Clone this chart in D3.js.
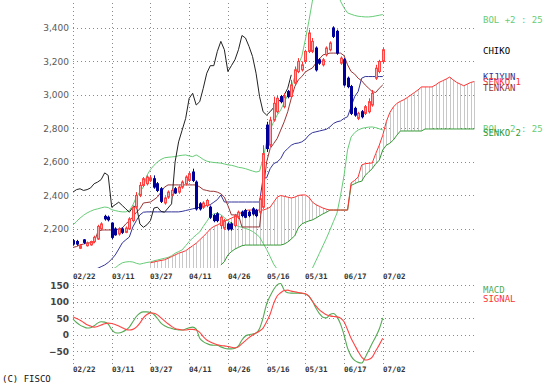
<!DOCTYPE html>
<html>
<head>
  <meta charset="utf-8"><script src="https://d3js.org/d3.v7.min.js"></script>
  <style>body{margin:0;background:#fff}</style>
</head>
<body>
  <svg id="mychart" width="547" height="391" style="background: white"></svg>
<script>
// tick labels and the day index they sit on
const dateLabels = ["02/22","03/11","03/27","04/11","04/26","05/16","05/31","06/17","07/02"]
const labelIdx   = [0, 11, 22, 33, 44, 55, 66, 77, 88]
const priceTicks = [2200, 2400, 2600, 2800, 3000, 3200, 3400]
const macdTicks  = [-50, 0, 50, 100, 150]

// daily candles (index 0 = 02/22)
const open = [2130,2125,2085,2135,2100,2105,2125,2140,2200,2275,
  2270,2235,2200,2170,2200,2180,2200,2250,2330,2400,
  2460,2470,2490,2500,2470,2440,2355,2390,2400,2440,
  2420,2450,2470,2490,2540,2480,2350,2330,2340,2330,
  2280,2290,2220,2205,2230,2230,2220,2270,2300,2310,
  2300,2320,2310,2300,2330,2820,2700,2850,2900,2990,
  2930,3020,2990,3070,3140,3150,3200,3260,3260,3280,
  3210,3180,3240,3270,3400,3380,3190,3210,3100,3050,
  2920,2860,2900,2890,2900,2940,3100,3140,3200]
const high = [2140,2135,2110,2140,2125,2130,2160,2225,2240,2285,
  2280,2240,2210,2210,2210,2215,2270,2340,2420,2480,
  2510,2520,2520,2520,2480,2450,2395,2430,2440,2450,
  2460,2490,2520,2540,2560,2490,2360,2365,2380,2340,
  2290,2300,2280,2260,2240,2240,2290,2310,2310,2320,
  2310,2330,2320,2400,2700,2840,2870,2990,3000,3000,
  3010,3030,3090,3170,3220,3200,3270,3390,3340,3290,
  3220,3220,3290,3320,3410,3390,3230,3220,3110,3060,
  2930,2900,2910,2940,2980,3030,3180,3210,3280]
const low = [2100,2100,2080,2110,2095,2100,2115,2135,2190,2250,
  2245,2140,2160,2160,2170,2175,2195,2240,2320,2390,
  2450,2460,2480,2440,2420,2355,2345,2380,2395,2410,
  2410,2440,2460,2480,2480,2310,2310,2320,2330,2260,
  2240,2240,2200,2195,2190,2190,2210,2260,2270,2265,
  2270,2280,2270,2290,2320,2660,2690,2840,2890,2950,
  2920,2980,2980,3060,3130,3140,3190,3250,3250,3140,
  3180,3170,3230,3260,3340,3240,3180,3050,3040,2880,
  2870,2850,2860,2880,2890,2930,3090,3130,3190]
const close = [2110,2110,2100,2120,2115,2125,2150,2215,2230,2260,
  2255,2150,2165,2200,2180,2205,2260,2330,2400,2460,
  2500,2510,2505,2450,2430,2365,2385,2420,2430,2415,
  2450,2480,2510,2530,2490,2320,2320,2355,2370,2270,
  2250,2250,2270,2250,2200,2200,2280,2300,2280,2270,
  2280,2290,2280,2380,2650,2680,2850,2950,2980,2960,
  2990,2990,3060,3150,3200,3180,3260,3370,3320,3150,
  3190,3210,3280,3310,3350,3250,3220,3060,3050,2890,
  2880,2890,2870,2930,2960,3010,3160,3200,3270]

const tenkan = [2090,2095,2105,2110,2117,2117,2117,2180,2194,2194,
  2194,2194,2194,2200,2206,2230,2250,2272,2300,2320,
  2355,2358,2361,2375,2391,2420,2450,2463,2463,2463,
  2463,2463,2463,2463,2463,2463,2451,2435,2430,2425,
  2425,2420,2410,2390,2340,2284,2284,2284,2212,2212,
  2212,2212,2212,2212,2420,2600,2680,2710,2740,2790,
  2840,2900,2980,3050,3090,3110,3137,3150,3161,3190,
  3215,3239,3245,3250,3250,3250,3250,3235,3180,3140,
  3125,3100,3085,3060,3040,3020,3015,3040,3060]
const kijun = [null,null,null,null,null,null,1960,1965,1975,1985,
  2000,2020,2045,2080,2117,2135,2152,2212,2250,2284,
  2300,2302,2302,2302,2302,2302,2302,2302,2302,2302,
  2302,2305,2310,2315,2320,2325,2330,2335,2340,2345,
  2360,2375,2403,2361,2361,2361,2361,2361,2361,2361,
  2361,2361,2361,2361,2505,2505,2560,2590,2600,2620,
  2660,2680,2700,2710,2713,2720,2735,2760,2775,2780,
  2785,2790,2795,2810,2830,2840,2845,2860,2870,2930,
  2990,3020,3100,3110,3110,3110,3110,3110,3110]
const senkou1 = [null,null,null,null,null,null,null,null,null,null,
  null,null,null,null,null,null,null,null,null,null,
  null,null,1998,2003,2008,2012,2016,2025,2035,2045,
  2055,2062,2070,2085,2100,2115,2135,2155,2176,2200,
  2215,2224,2235,2245,2255,2265,2275,2285,2302,2310,
  2313,2313,2313,2313,2313,2320,2330,2360,2390,2400,
  2395,2390,2385,2390,2400,2403,2403,2390,2361,2345,
  2335,2325,2318,2313,2313,2313,2313,2313,2313,2475,
  2490,2510,2582,2590,2592,2594,2650,2700,2760,2840,
  2895,2928,2950,2962,2972,2985,3000,3015,3030,3048,
  3048,3048,3048,3060,3075,3085,3095,3107,3090,3075,
  3065,3055,3065,3075,3080]
const senkou2 = [null,null,null,null,null,null,null,null,null,null,
  null,null,null,null,null,null,null,null,null,null,
  null,null,null,null,null,null,null,null,null,null,
  null,null,null,null,null,null,null,null,null,null,
  null,null,1985,2005,2045,2065,2080,2090,2100,2104,
  2104,2104,2104,2104,2104,2104,2104,2104,2104,2104,
  2110,2122,2140,2160,2206,2230,2240,2248,2254,2265,
  2278,2290,2300,2313,2313,2313,2313,2313,2313,2460,
  2470,2480,2485,2520,2540,2560,2590,2610,2672,2700,
  2712,2731,2760,2785,2785,2785,2785,2785,2785,2785,
  2797,2797,2797,2797,2797,2797,2797,2797,2797,2797,
  2797,2797,2797,2797,2797]
const chiko = [2420,2435,2440,2430,2435,2445,2470,2480,2495,2535,
  2520,2330,2345,2360,2340,2320,2300,2330,2340,2230,
  2210,2225,2250,2325,2330,2305,2300,2325,2350,2600,
  2720,2790,2860,2980,3010,2940,2960,3040,3130,3175,
  3175,3260,3320,3270,3140,3175,3210,3270,3355,3340,
  3290,3230,3130,2990,2900,2880,2900,2925,2950,2975,
  3000,3040,3120]
const bolUp = [2224,2245,2265,2282,2296,2306,2315,2320,2326,2331,
  2328,2315,2310,2305,2302,2302,2310,2343,2390,2421,
  2451,2520,2555,2580,2600,2615,2625,2628,2630,2632,
  2637,2640,2642,2636,2632,2642,2630,2615,2605,2600,
  2597,2595,2593,2588,2583,2580,2575,2568,2565,2560,
  2553,2546,2540,2545,2620,2720,2791,2840,2880,2910,
  2955,3000,3040,3110,3180,3230,3330,3440,3560,3650,
  3700,3720,3720,3700,3680,3640,3560,3520,3490,3482,
  3475,3470,3468,3466,3466,3468,3472,3476,3480]
const bolLo = [1950,1948,1945,1942,1940,1940,1942,1945,1948,1950,
  1955,1960,1968,1985,1998,2003,2005,2003,1995,1990,
  1995,2000,2003,2010,2015,2020,2025,2030,2040,2055,
  2065,2075,2100,2125,2146,2165,2182,2215,2245,2277,
  2290,2295,2285,2268,2250,2235,2225,2215,2210,2203,
  2196,2185,2170,2152,2115,2078,2035,1990,1960,1930,
  1900,1870,1850,1840,1840,1850,1880,1920,1965,2010,
  2055,2100,2145,2194,2245,2295,2400,2520,2672,2749,
  2775,2791,2800,2805,2808,2809,2805,2798,2791]

const macd = [48,38,30,25,21,22,28,36,40,39,
  33,16,7,6,9,15,24,40,56,66,
  70,70,68,62,50,36,28,23,20,17,
  15,15,18,22,24,18,-10,-20,-26,-30,
  -31,-31,-36,-40,-42,-42,-40,-33,-15,-3,
  1,3,6,20,52,94,118,138,152,156,
  136,128,127,127,127,126,124,118,102,82,
  65,54,52,62,65,55,33,0,-40,-64,
  -77,-83,-85,-68,-47,-25,-5,18,52]
const signal = [55,50,45,38,31,27,24,26,30,34,
  36,35,32,27,22,17,15,17,24,36,
  52,62,67,66,61,52,43,34,26,20,
  17,15,15,17,17,15,8,-5,-15,-21,
  -26,-30,-32,-33,-35,-37,-39,-36,-26,-17,
  -8,0,6,12,21,40,63,95,118,128,
  135,136,133,131,129,127,125,118,103,88,
  76,68,61,58,56,55,51,40,16,-10,
  -30,-50,-67,-76,-74,-67,-48,-30,-10]

const svg = d3.select("#mychart")

const x  = d3.scaleLinear().domain([0, 114]).range([73, 474.3])
const yP = d3.scaleLinear().domain([1967, 3567]).range([268, 0])
const yM = d3.scaleLinear().domain([-87.9, 160.6]).range([364, 282])

const gridColor = "#8a8a8a"
const lightGreen = "#66cc77"

// clip for the price panel
svg.append("clipPath").attr("id", "clipP")
  .append("rect").attr("x", 73).attr("y", 0).attr("width", 403).attr("height", 268)

// grid, price panel
svg.append("g").selectAll("line").data(priceTicks).join("line")
  .attr("x1", 73).attr("x2", 475)
  .attr("y1", d => Math.round(yP(d)) + 0.5).attr("y2", d => Math.round(yP(d)) + 0.5)
  .attr("stroke", gridColor).attr("stroke-dasharray", "1,3")
svg.append("g").selectAll("line").data(labelIdx).join("line")
  .attr("x1", d => Math.round(x(d)) + 0.5).attr("x2", d => Math.round(x(d)) + 0.5)
  .attr("y1", 3).attr("y2", 268)
  .attr("stroke", gridColor).attr("stroke-dasharray", "1,3")

// grid, macd panel
svg.append("g").selectAll("line").data(macdTicks).join("line")
  .attr("x1", 73).attr("x2", 475)
  .attr("y1", d => Math.round(yM(d)) + 0.5).attr("y2", d => Math.round(yM(d)) + 0.5)
  .attr("stroke", gridColor).attr("stroke-dasharray", "1,3")
svg.append("g").selectAll("line").data(labelIdx).join("line")
  .attr("x1", d => Math.round(x(d)) + 0.5).attr("x2", d => Math.round(x(d)) + 0.5)
  .attr("y1", 283).attr("y2", 364)
  .attr("stroke", gridColor).attr("stroke-dasharray", "1,3")

// y axes
yAxisP = g => g
  .attr("transform", "translate(69,0)")
  .call(d3.axisLeft(yP).tickValues(priceTicks).tickFormat(d3.format(",")).tickSize(0))
  .call(g => g.select(".domain").remove())
  .call(g => g.selectAll("text").attr("font-family", "DejaVu Sans").attr("font-size", 9)
    .attr("fill", "#5a5a5a").attr("x", 0))
svg.append("g").call(yAxisP)

yAxisM = g => g
  .attr("transform", "translate(69,0)")
  .call(d3.axisLeft(yM).tickValues(macdTicks).tickFormat(d3.format("d")).tickSize(0))
  .call(g => g.select(".domain").remove())
  .call(g => g.selectAll("text").attr("font-family", "DejaVu Sans").attr("font-size", 9)
    .attr("font-weight", "bold").attr("fill", "#444").attr("x", 0))
svg.append("g").call(yAxisM)

// x labels, under price panel and under macd panel
for (const ly of [276, 369]) {
  svg.append("g").selectAll("text").data(labelIdx).join("text")
    .attr("x", d => Math.round(x(d)))
    .attr("y", ly).attr("dy", "0.35em")
    .attr("font-family", "DejaVu Sans Mono").attr("font-size", 7.5).attr("font-weight", "bold")
    .attr("fill", "#333")
    .text((d, i) => dateLabels[i])
}

const plot = svg.append("g").attr("clip-path", "url(#clipP)")

// cloud hatch
const hatch = d3.range(senkou1.length).filter(i => senkou1[i] != null)
plot.append("g").selectAll("line").data(hatch).join("line")
  .attr("x1", i => Math.round(x(i)) + 0.5).attr("x2", i => Math.round(x(i)) + 0.5)
  .attr("y1", i => yP(senkou1[i]))
  .attr("y2", i => senkou2[i] != null ? yP(senkou2[i]) : 268)
  .attr("stroke", "#c8c8c8").attr("stroke-width", 1)

line = d3.line()
  .defined(d => d != null)
  .x((d, i) => x(i))
  .y(d => yP(d))

function drawLine(data, color) {
  plot.append("path")
    .datum(data)
    .attr("fill", "none")
    .attr("stroke", color)
    .attr("stroke-width", 1)
    .attr("stroke-linejoin", "round")
    .attr("d", line)
}

drawLine(bolUp, lightGreen)
drawLine(bolLo, lightGreen)
drawLine(senkou2, "#339933")
drawLine(senkou1, "#ff3333")
drawLine(kijun, "#333399")
drawLine(tenkan, "#993333")
drawLine(chiko, "#222")

// candles
const days = d3.range(close.length)
const up = i => close[i] >= open[i]
plot.append("g").selectAll("line").data(days).join("line")
  .attr("x1", i => Math.round(x(i)) + 0.5).attr("x2", i => Math.round(x(i)) + 0.5)
  .attr("y1", i => yP(high[i])).attr("y2", i => yP(low[i]))
  .attr("stroke", i => up(i) ? "#ff3333" : "#000099")
plot.append("g").selectAll("rect").data(days).join("rect")
  .attr("x", i => Math.round(x(i)) - 0.5)
  .attr("width", 2)
  .attr("y", i => yP(Math.max(open[i], close[i])))
  .attr("height", i => Math.max(1.5, yP(Math.min(open[i], close[i])) - yP(Math.max(open[i], close[i]))))
  .attr("fill", i => up(i) ? "#ffaaaa" : "#000099")
  .attr("stroke", i => up(i) ? "#ff4444" : "#000099")
  .attr("stroke-width", 1)

// macd panel
lineM = d3.line()
  .x((d, i) => x(i))
  .y(d => yM(d))
  .curve(d3.curveMonotoneX)
svg.append("path").datum(macd)
  .attr("fill", "none").attr("stroke", "#55aa55").attr("stroke-width", 1.1).attr("d", lineM)
svg.append("path").datum(signal)
  .attr("fill", "none").attr("stroke", "#ff4444").attr("stroke-width", 1.1).attr("d", lineM)

// legends (the reference draws some of them on top of each other)
const legend = [
  ["BOL +2 : 25", 20, lightGreen],
  ["CHIKO", 51, "#000"],
  ["KIJYUN", 77, "#333399"],
  ["SENKO 1", 82, "#ff3333"],
  ["TENKAN", 88, "#993333"],
  ["BOL -2 : 25", 129, lightGreen],
  ["SENKO 2", 133, "#339933"],
  ["MACD", 290, "#55aa55"],
  ["SIGNAL", 299, "#ff3333"]
]
svg.append("g").selectAll("text").data(legend).join("text")
  .attr("x", 483).attr("y", d => d[1]).attr("dy", "0.35em")
  .attr("font-family", "DejaVu Sans Mono").attr("font-size", 9)
  .attr("fill", d => d[2])
  .text(d => d[0])

svg.append("text")
  .attr("x", 2).attr("y", 379).attr("dy", "0.35em")
  .attr("font-family", "DejaVu Sans Mono").attr("font-size", 9)
  .attr("fill", "#111")
  .text("(C) FISCO")
</script>
</body>
</html>
